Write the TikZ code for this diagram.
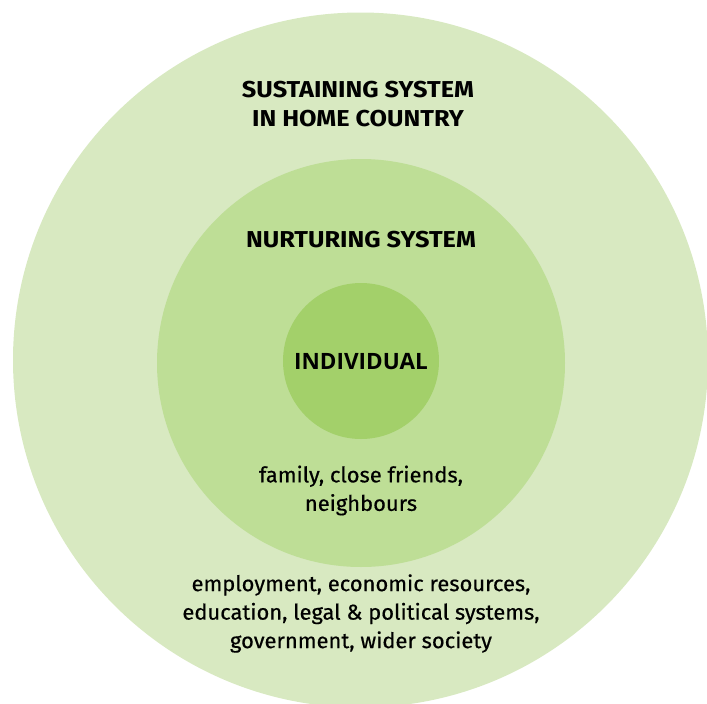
\documentclass[tikz,border=0pt]{standalone}
\usepackage{fontspec}
\setmainfont{Fira Sans}
\newfontfamily\bodyfont{Fira Sans}[FakeStretch=1.02,FakeBold=0.5]
\newfontfamily\headfont{Fira Sans}[FakeStretch=1.1]
\newfontfamily\labelfont{Open Sans}
\definecolor{ringouter}{RGB}{216,233,193}
\definecolor{ringmiddle}{RGB}{190,222,150}
\definecolor{ringinner}{RGB}{163,208,106}
\begin{document}
\begin{tikzpicture}[x=1pt,y=-1pt,
  ring/.style={circle,inner sep=0pt,draw=none},
  heading/.style={font=\headfont\fontsize{23}{29}\selectfont\bfseries,align=center,inner sep=0pt},
  body/.style={font=\bodyfont\fontsize{21.5}{28.5}\selectfont,align=center,inner sep=0pt}]
  \useasboundingbox (0,0) rectangle (707,704);
  \begin{scope}
    \clip (0,0) rectangle (707,704);
    \node[ring,fill=ringouter,minimum size=695] (outer) at (360.5,360) {};
  \end{scope}
  \node[ring,fill=ringmiddle,minimum size=408] (middle) at (361,363) {};
  \node[ring,fill=ringinner,minimum size=156] (inner) at (361,361) {};

  \node[heading] (sustain) at (358,104.5) {SUSTAINING SYSTEM\\IN HOME COUNTRY};
  \node[heading] (nurture) at (361,240) {NURTURING SYSTEM};
  \node[font=\labelfont\fontsize{22.5}{26}\selectfont\bfseries,inner sep=0pt] (individual) at (361,362) {INDIVIDUAL};
  \node[body] (close) at (361,490.5) {family, close friends,\\neighbours};
  \node[body] (wider) at (361,613.5) {employment, economic resources,\\education, legal \& political systems,\\government, wider society};
\end{tikzpicture}
\end{document}
